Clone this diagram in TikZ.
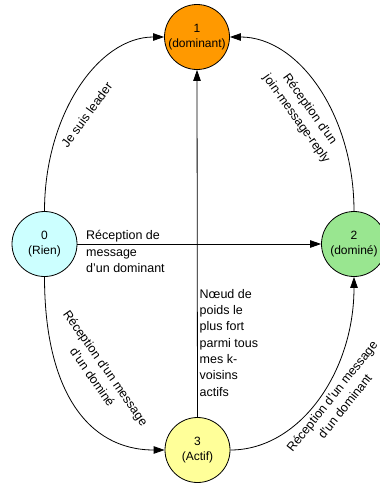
\documentclass[tikz,border=0pt]{standalone}
\usepackage{fontspec}
\setmainfont{Liberation Sans}
\usetikzlibrary{arrows.meta}
\definecolor{czero}{RGB}{204,255,255}
\definecolor{cone}{RGB}{255,153,0}
\definecolor{ctwo}{RGB}{153,230,144}
\definecolor{cthree}{RGB}{255,255,153}
\begin{document}
\begin{tikzpicture}[x=1pt,y=-1pt,
  state/.style={circle,draw=black,line width=0.8pt,minimum size=65pt,inner sep=0pt,align=center,font=\fontsize{12}{15.5}\selectfont},
  conn/.style={line width=0.8pt,-{Triangle[length=11pt,width=7.5pt]}},
  lbl/.style={font=\fontsize{12.5}{16.3}\selectfont,inner sep=0pt,align=center},
  lbll/.style={font=\fontsize{12.5}{16.3}\selectfont,inner sep=0pt,align=left,anchor=north west},
  ]
\useasboundingbox (0,0) rectangle (380,485);
\node[state,fill=czero] (n0) at (44.5,244) {0\\(Rien)};
\node[state,fill=cone] (n1) at (197,37) {1\\(dominant)};
\node[state,fill=ctwo] (n2) at (354,244) {2\\(dominé)};
\node[state,fill=cthree] (n3) at (197.5,450) {3\\(Actif)};

\draw[conn] (n0.north) .. controls +(90:96pt) and +(180:66pt) .. (n1.west);
\draw[conn] (n2.north) .. controls +(90:96pt) and +(0:69pt) .. (n1.east);
\draw[conn] (n0.east) -- (n2.west);
\draw[conn] (n3.north) -- (n1.south);
\draw[conn] (n0.south) .. controls +(270:112pt) and +(180:78pt) .. (n3.west);
\draw[conn] (n3.east) .. controls +(0:68.5pt) and +(270:96pt) .. (n2.south);

\node[lbl,rotate=54] (l01) at (86.7,115) {Je suis leader};
\node[lbl,rotate=-54.5] (l21) at (303,114.2) {Réception d'un\\join-message-reply};
\node[lbll] (l02) at (86,230.5) {Réception de\\message\\d'un dominant};
\node[lbll] (l31) at (199.5,289) {Nœud de\\poids le\\plus fort\\parmi tous\\mes k-\\voisins\\actifs};
\node[lbl,rotate=-55] (l03) at (99.2,372.5) {Réception d'un message\\d'un dominé};
\node[lbl,rotate=51.5] (l32) at (338.3,401.3) {Réception d'un message\\d'un dominant};
\end{tikzpicture}
\end{document}
